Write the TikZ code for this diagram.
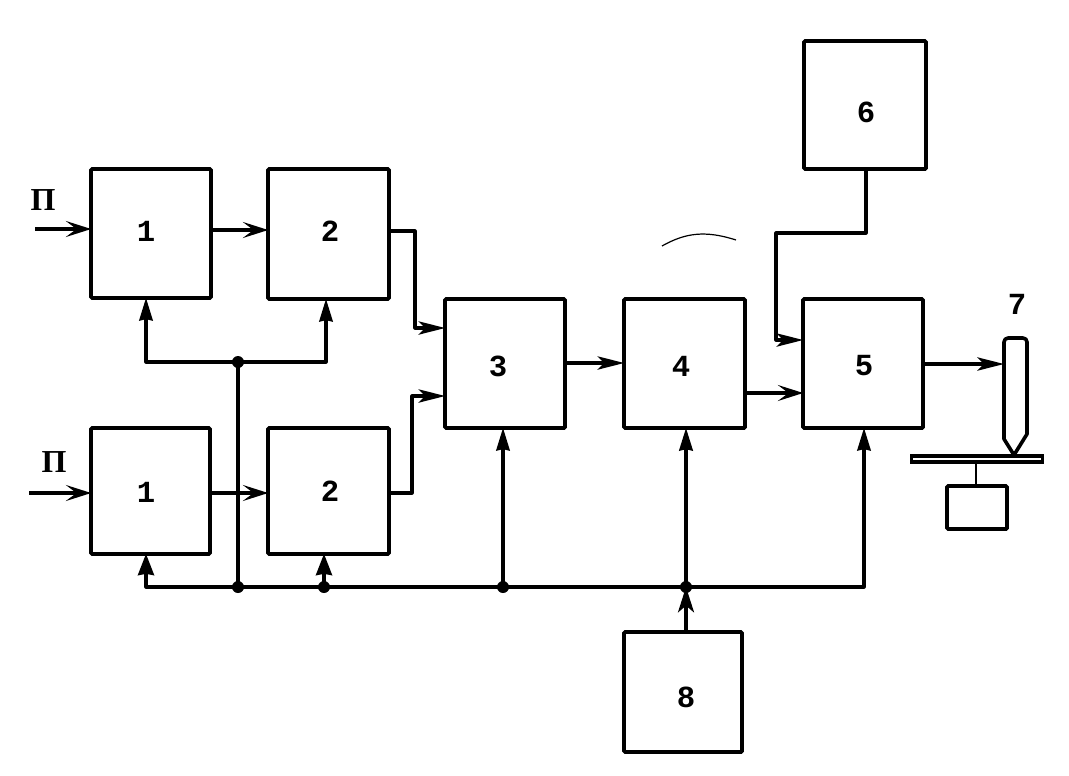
\documentclass[tikz,border=0pt]{standalone}
\usepackage{fontspec}
\setmainfont{Liberation Mono}
\newfontfamily\serifcyr{Liberation Serif}
\usetikzlibrary{arrows.meta,calc}
\tikzset{
  x=0.75pt,y=-0.75pt,
  box/.style={draw=black,line width=2.7pt,rounded corners=0.8pt,inner sep=0pt},
  wire/.style={draw=black,line width=2.4pt,line join=round,shorten >=-1.5pt},
  opena/.style={wire,-{Stealth[length=19pt,width=12pt,inset=8pt]}},
  thina/.style={wire,-{Stealth[length=19pt,width=12pt,inset=8pt]}},
  solida/.style={wire,-{Stealth[length=20pt,width=10pt,inset=5pt]}},
  filla/.style={wire,-{Stealth[length=17pt,width=10pt,inset=1pt]}},
  dotn/.style={circle,fill=black,inner sep=0pt,minimum size=9pt},
  lab/.style={inner sep=0pt,font=\fontsize{23}{23}\selectfont\bfseries},
  plab/.style={inner sep=0pt,font=\serifcyr\fontsize{24}{24}\selectfont\bfseries},
}
\newcommand{\blk}[5]{\node[box,minimum width=#4*0.75pt-#2*0.75pt,minimum height=#5*0.75pt-#3*0.75pt] (#1) at ({(#2+#4)/2},{(#3+#5)/2}) {};}
\begin{document}
\begin{tikzpicture}
\useasboundingbox (0,0) rectangle (1069,775);
\fill[white] (0,0) rectangle (1069,775);
\blk{a1}{91}{169}{211}{298}
\blk{a2}{268}{169}{389}{299}
\blk{b1}{91}{428}{210}{554}
\blk{b2}{268}{428}{389}{554}
\blk{c3}{445}{299}{565}{428}
\blk{c4}{624}{299}{745}{428}
\blk{c5}{803}{299}{923}{428}
\blk{c6}{804}{41}{926}{169}
\blk{c8}{624}{632}{742}{752}
\blk{sm}{947}{486}{1007}{529}
\node[lab] (la1) at (146,231) {1};
\node[lab] (la2) at (330,231) {2};
\node[lab] (lb1) at (146,492) {1};
\node[lab] (lb2) at (330,491) {2};
\node[lab] (l3) at (498,366) {3};
\node[lab] (l4) at (681,366) {4};
\node[lab] (l5) at (864,366) {5};
\node[lab] (l6) at (866,112) {6};
\node[lab] (l8) at (686,697) {8};
\node[draw=black,line width=2.7pt,minimum width=131*0.75pt,minimum height=5.5*0.75pt,inner sep=0pt] (plate) at (977,459) {};
% tool 7
\coordinate (pen) at (1004,364);
\coordinate (tip) at (1014,455);
\draw[line width=2.7pt,line join=round] (tip) -- (1004,439) -- (1004,342) [rounded corners=3pt] -- (1004,338) -- (1027,338) [sharp corners] -- (1027,434) -- cycle;
\node[lab] (n7) at (1017,304) {7};
\node[plab] (p1) at (43,200) {П};
\node[plab] (p2) at (54,462) {П};
% inputs
\coordinate (in1) at (35,229);
\coordinate (in2) at (29,493);
\draw[thina] (in1) -- (a1.west|-in1);
\draw[thina] (in2) -- (b1.west|-in2);
% chain
\draw[opena] (a1.east|-0,230) -- (a2.west|-0,230);
\draw[thina] (b1.east|-0,493) -- (b2.west|-0,493);
\draw[solida] (a2.east|-0,231) -- (415,231) -- (415,328) -- (c3.west|-0,328);
\draw[solida] (b2.east|-0,493) -- (412,493) -- (412,396) -- (c3.west|-0,396);
\draw[solida] (c3.east|-0,363) -- (c4.west|-0,363);
\draw[thina] (c4.east|-0,393) -- (c5.west|-0,393);
\draw[solida,shorten >=0pt] (c5.east|-0,364) -- (pen);
\draw[solida] (866,0|-c6.south) -- (866,233) -- (776,233) -- (776,340) -- (c5.west|-0,340);
% buses
\node[dotn] (j1) at (238,362) {};
\node[dotn] (j2) at (238,587) {};
\node[dotn] (j3) at (324,587) {};
\node[dotn] (j4) at (503,587) {};
\node[dotn] (j5) at (686,587) {};
\coordinate (tl) at (146,362);
\coordinate (tr) at (326,362);
\coordinate (bl) at (146,587);
\coordinate (br) at (864,587);
\draw[wire,shorten >=0pt] (j1.center) -- (j2.center);
\draw[filla] (j1.center) -- (tl) -- (tl|-a1.south);
\draw[filla] (j1.center) -- (tr) -- (tr|-a2.south);
\draw[wire,-{Stealth[length=16pt,width=12pt,inset=1pt]}] (j2.center) -- (bl) -- (bl|-b1.south);
\draw[wire,-{Stealth[length=16pt,width=12pt,inset=1pt]}] (j3.center) -- (j3.center|-b2.south);
\draw[wire,shorten >=0pt] (j2.center) -- (j5.center);
\draw[filla] (j4.center) -- (j4.center|-c3.south);
\draw[filla,line width=2.8pt] (j5.center) -- (j5.center|-c4.south);
\draw[filla] (j5.center) -- (br) -- (br|-c5.south);
\draw[wire,shorten >=0pt,-{Stealth[length=19pt,width=12pt,inset=5pt]}] (j5.center|-c8.north) -- (j5.center);
% tool stand
\draw[line width=2.2pt] (plate.south-|976,0) -- (sm.north-|976,0);
% stray pencil arc
\draw[line width=0.9pt] (662,246) .. controls (685,233) and (705,230) .. (736,240);
\end{tikzpicture}
\end{document}
